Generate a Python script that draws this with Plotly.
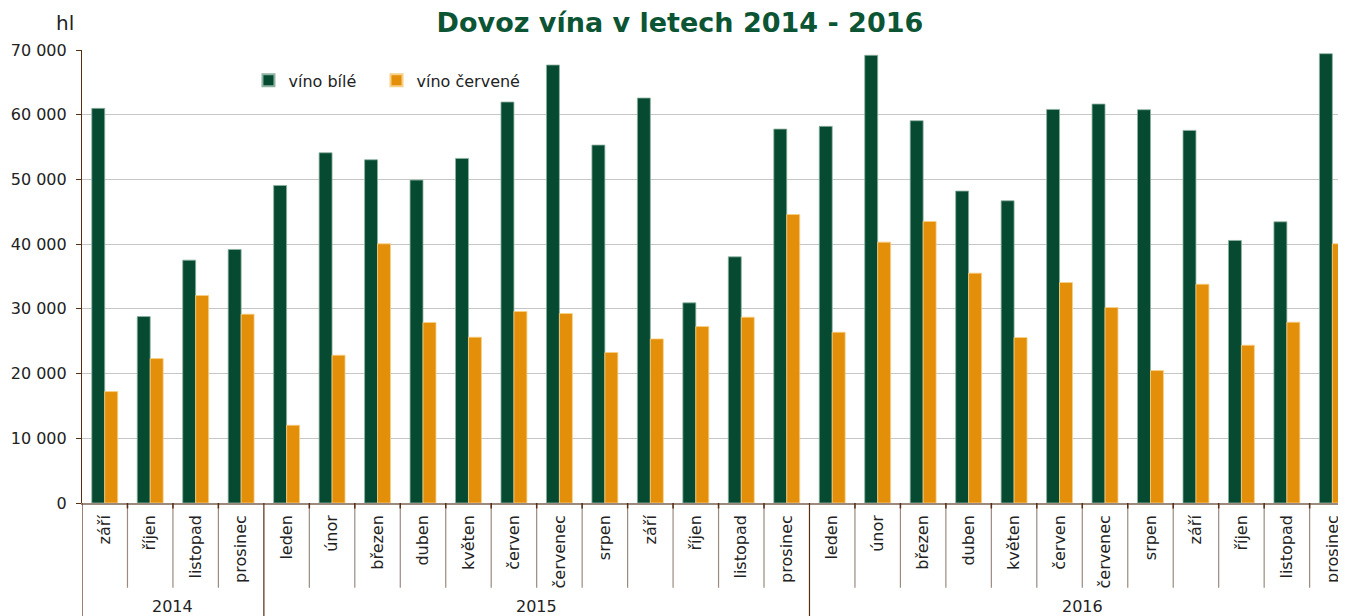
import plotly.graph_objects as go

# ---- data ----
years = ["2014"] * 4 + ["2015"] * 12 + ["2016"] * 12
months = [
    "září", "říjen", "listopad", "prosinec",
    "leden", "únor", "březen", "duben", "květen", "červen",
    "červenec", "srpen", "září", "říjen", "listopad", "prosinec",
    "leden", "únor", "březen", "duben", "květen", "červen",
    "červenec", "srpen", "září", "říjen", "listopad", "prosinec",
]
vino_bile = [
    60980, 28810, 37530, 39180,
    49070, 54120, 53040, 49900, 53250, 61960,
    67680, 55310, 62580, 30930, 38040, 57780,
    58200, 69180, 59070, 48200, 46700, 60820,
    61650, 60770, 57580, 40570, 43450, 69430,
]
vino_cervene = [
    17220, 22320, 32060, 29180,
    12010, 22840, 40050, 27890, 25620, 29590,
    29280, 23250, 25360, 27270, 28710, 44590,
    26390, 40310, 43510, 35520, 25570, 34070,
    30210, 20460, 33810, 24380, 27940, 40050,
]

GREEN = "#064b31"
ORANGE = "#e38f0a"
DARK = "#5a2c10"
GREYBROWN = "#9a8a80"
FONT = "DejaVu Sans"

idx = list(range(len(months)))

fig = go.Figure()
fig.add_trace(go.Bar(
    x=idx, y=vino_bile, name="víno bílé", legend="legend", showlegend=True,
    marker=dict(color=GREEN, line=dict(color="#8fb3a2", width=0.8)),
))
fig.add_trace(go.Bar(
    x=idx, y=vino_cervene, name="víno červené", legend="legend2", showlegend=True,
    marker=dict(color=ORANGE, line=dict(color="#f7cf86", width=0.8)),
))

shapes = []
for k in idx:
    xb = k - 0.5
    if k == 0 or years[k] != years[k - 1]:
        shapes.append(dict(type="line", xref="x", yref="paper", x0=xb, x1=xb,
                           y0=0, y1=-0.26, line=dict(color=DARK, width=1.2),
                           layer="above"))
    else:
        shapes.append(dict(type="line", xref="x", yref="paper", x0=xb, x1=xb,
                           y0=0, y1=-0.187, line=dict(color=GREYBROWN, width=1.2),
                           layer="above"))
        shapes.append(dict(type="line", xref="x", yref="paper", x0=xb, x1=xb,
                           y0=0, y1=-0.012, line=dict(color=DARK, width=1.5),
                           layer="above"))

annotations = []
for yr in sorted(set(years)):
    ks = [k for k in idx if years[k] == yr]
    annotations.append(dict(
        x=(ks[0] + ks[-1]) / 2, y=-0.229, xref="x", yref="paper",
        text=yr, showarrow=False, xanchor="center", yanchor="middle",
        font=dict(family=FONT, size=16, color="#222222"),
    ))
annotations.append(dict(
    x=-0.0134, y=1.06, xref="paper", yref="paper", text="hl",
    showarrow=False, xanchor="center", yanchor="middle",
    font=dict(family=FONT, size=20, color="#222222"),
))

legend_common = dict(
    orientation="h", y=0.933, xanchor="left", yanchor="middle",
    font=dict(family=FONT, size=16, color="#222222"),
    bgcolor="rgba(0,0,0,0)", itemsizing="constant",
)

# The page body has an 8 px default margin; size the figure to fit the window.
fig.update_layout(
    width=1338, height=608,
    margin=dict(l=74, r=0, t=42, b=113, autoexpand=False),
    paper_bgcolor="white", plot_bgcolor="white",
    separators=", ",
    showlegend=True,
    barmode="group", bargap=0.43, bargroupgap=0,
    title=dict(
        text="<b>Dovoz vína v letech 2014 - 2016</b>",
        x=0.5022, xref="container", xanchor="center",
        y=0.9753, yref="container", yanchor="middle",
        font=dict(family=FONT, size=27, color="#0b5434"),
    ),
    font=dict(family=FONT, size=16, color="#222222"),
    legend=dict(x=0.1317, **legend_common),
    legend2=dict(x=0.233, **legend_common),
    xaxis=dict(
        range=[-0.5, 27.3], tickmode="array", tickvals=idx, ticktext=months,
        tickangle=-90, showgrid=False, zeroline=False, ticks="",
        showline=True, linecolor=GREYBROWN, linewidth=1.5,
        tickfont=dict(family=FONT, size=16, color="#222222"),
        ticklabelstandoff=4, fixedrange=True, automargin=False,
    ),
    yaxis=dict(
        range=[0, 70000], dtick=10000, tickformat=",d",
        showgrid=True, gridcolor="#c6c6c6", gridwidth=1,
        zeroline=False, showline=True, linecolor=DARK, linewidth=1.2,
        ticks="outside", ticklen=5, tickcolor=DARK,
        tickfont=dict(family=FONT, size=16, color="#222222"),
        ticklabelstandoff=6, automargin=False,
    ),
    shapes=shapes, annotations=annotations,
)

fig.write_html("out.html")
